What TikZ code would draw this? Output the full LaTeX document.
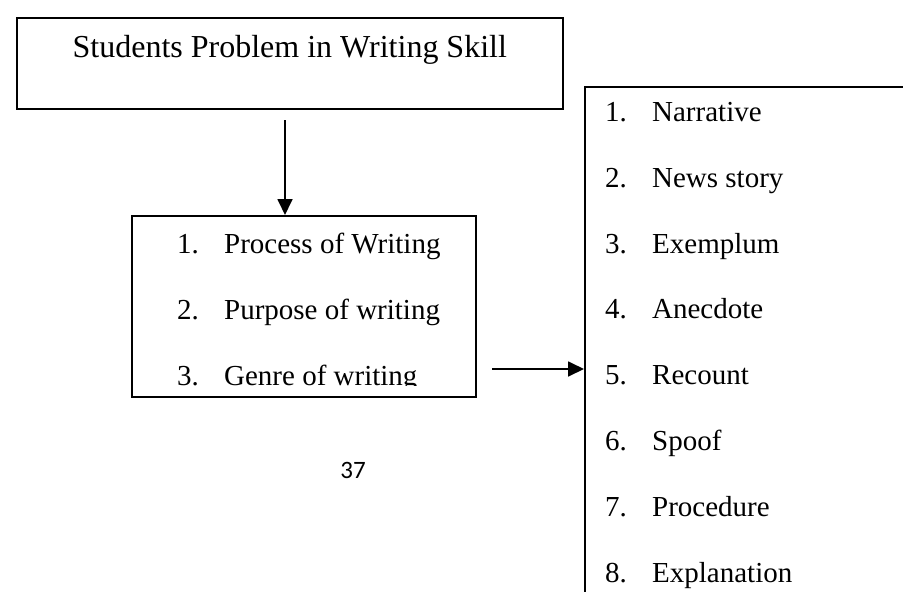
\documentclass[tikz,border=0pt]{standalone}
\usepackage{fontspec}
\setmainfont{Liberation Serif}
\newfontfamily\pagefont{Carlito}
\usetikzlibrary{arrows.meta,positioning}
\newcommand{\numitem}[2]{\makebox[47pt][l]{#1}#2}

\begin{document}
\begin{tikzpicture}[x=1pt, y=-1pt,
  box/.style={draw, line width=1.6pt, inner sep=0pt},
  item/.style={font=\fontsize{29}{34}\selectfont, inner sep=0pt,
    text height=20pt, text depth=6.5pt, anchor=north west},
  arr/.style={-{Triangle[length=16pt, width=15pt]}, line width=1.8pt},
]
\useasboundingbox (0,0) rectangle (903,592);
% problem box (top)
\node[box, anchor=north west, minimum width=546pt, minimum height=91pt] (prob) at (16,17) {};
\node[anchor=base, font=\fontsize{32}{38}\selectfont] (title) at ([yshift=-40pt]prob.north) {Students Problem in Writing Skill};
% aspects box (middle)
\node[box, anchor=north west, minimum width=344pt, minimum height=181pt] (mid) at (131,215) {};
\node[item] (m1) at (177,233) {\numitem{1.}{Process of Writing}};
\node[below=39pt of m1.south west, item] (m2) {\numitem{2.}{Purpose of writing}};
\begin{scope}
  \clip (mid.north west) rectangle ([yshift=12pt]mid.south east);
  \node[below=39pt of m2.south west, item] (m3) {\numitem{3.}{Genre of writing}};
\end{scope}
% genre box (right, runs off the page)
\node[box, anchor=north west, minimum width=340pt, minimum height=530pt] (genre) at (584,86) {};
\node[item] (g1) at (605,101) {\numitem{1.}{Narrative}};
\node[below=39pt of g1.south west, item] (g2) {\numitem{2.}{News story}};
\node[below=39pt of g2.south west, item] (g3) {\numitem{3.}{Exemplum}};
\node[below=39pt of g3.south west, item] (g4) {\numitem{4.}{Anecdote}};
\node[below=39pt of g4.south west, item] (g5) {\numitem{5.}{Recount}};
\node[below=39pt of g5.south west, item] (g6) {\numitem{6.}{Spoof}};
\node[below=39pt of g6.south west, item] (g7) {\numitem{7.}{Procedure}};
\node[below=39pt of g7.south west, item] (g8) {\numitem{8.}{Explanation}};
% arrows
\coordinate (a1) at (285,120);
\draw[arr] (a1) -- (a1 |- mid.north);
\coordinate (a2) at (492,369);
\draw[arr] (a2) -- (a2 -| genre.west);
% page number
\node[font=\pagefont\fontsize{25}{30}\selectfont] (page) at (353,470) {37};
\end{tikzpicture}
\end{document}
